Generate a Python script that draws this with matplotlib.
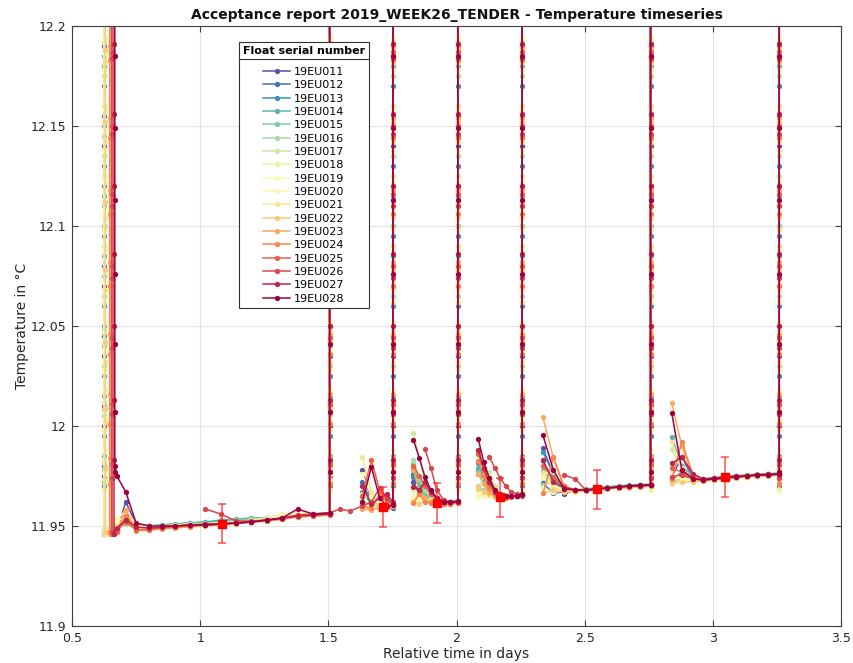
import numpy as np
import matplotlib
matplotlib.use("Agg")
import matplotlib.pyplot as plt
from matplotlib.lines import Line2D
from matplotlib.ticker import FormatStrFormatter

nan = np.nan

floats = ["19EU011", "19EU012", "19EU013", "19EU014", "19EU015", "19EU016",
          "19EU017", "19EU018", "19EU019", "19EU020", "19EU021", "19EU022",
          "19EU023", "19EU024", "19EU025", "19EU026", "19EU027", "19EU028"]

# time (days) of the first descent of every float
descent_time = [0.625, 0.625, 0.625, 0.625, 0.625, 0.625, 0.626, 0.626, 0.627,
                0.627, 0.629, 0.630, 0.647, 0.648, 0.655, 0.656, 0.664, 0.667]
# deepest temperature reached at the end of the first descent
descent_bottom = [11.947, 11.946, 11.948, 11.946, 11.947, 11.946, 11.948, 11.947, 11.946,
                  11.947, 11.946, 11.947, 11.946, 11.947, 11.946, 11.947, 11.946, 11.980]

# temperatures crossed through the water column (bottom -> surface)
column_temp = [
    [11.975, 12.000, 12.035, 12.070, 12.100, 12.140, 12.180, 12.45],
    [11.980, 12.010, 12.045, 12.080, 12.120, 12.155, 12.190, 12.45],
    [11.970, 11.995, 12.025, 12.060, 12.095, 12.130, 12.170, 12.45],
    [11.985, 12.015, 12.050, 12.085, 12.115, 12.150, 12.185, 12.45],
    [11.972, 12.005, 12.040, 12.075, 12.110, 12.145, 12.180, 12.45],
    [11.978, 12.008, 12.030, 12.065, 12.100, 12.135, 12.175, 12.45],
    [11.982, 12.012, 12.048, 12.090, 12.125, 12.160, 12.192, 12.45],
    [11.968, 11.998, 12.028, 12.062, 12.098, 12.138, 12.178, 12.45],
    [11.976, 12.004, 12.038, 12.072, 12.108, 12.148, 12.186, 12.45],
    [11.988, 12.018, 12.052, 12.088, 12.122, 12.158, 12.194, 12.45],
    [11.973, 12.002, 12.032, 12.068, 12.104, 12.142, 12.182, 12.45],
    [11.979, 12.009, 12.042, 12.078, 12.112, 12.152, 12.188, 12.45],
    [11.984, 12.016, 12.046, 12.082, 12.118, 12.154, 12.190, 12.45],
    [11.971, 12.001, 12.036, 12.070, 12.106, 12.144, 12.183, 12.45],
    [11.981, 12.011, 12.044, 12.080, 12.116, 12.150, 12.187, 12.45],
    [11.974, 12.006, 12.039, 12.074, 12.110, 12.146, 12.184, 12.45],
    [11.983, 12.013, 12.050, 12.086, 12.120, 12.156, 12.191, 12.45],
    [11.977, 12.007, 12.041, 12.076, 12.113, 12.149, 12.185, 12.45],
]

# cycle 1 drift
t1 = [0.675, 0.71, 0.75, 0.80, 0.85, 0.90, 0.96, 1.02, 1.08, 1.14, 1.20, 1.26, 1.32, 1.38, 1.44, 1.505]
drift1 = [
    [11.948, 11.962, 11.951, 11.950, 11.950, 11.9505, 11.951, 11.951, 11.9515, 11.952, 11.9525, 11.953, 11.954, 11.955, 11.9555, 11.956],
    [11.949, 11.958, 11.9505, 11.9495, 11.950, 11.9505, 11.951, 11.9515, 11.952, 11.9525, 11.953, 11.9535, 11.954, 11.955, 11.9555, 11.9565],
    [11.950, 11.955, 11.951, 11.950, 11.9505, 11.951, 11.9515, 11.952, 11.9525, 11.953, 11.9535, 11.954, 11.9545, 11.955, 11.956, 11.9565],
    [11.950, 11.953, 11.9505, 11.950, 11.9505, 11.951, 11.9515, 11.952, 11.953, 11.9535, 11.954, 11.954, 11.9545, 11.9555, 11.956, 11.9565],
    [11.951, 11.952, 11.950, 11.9495, 11.950, 11.9505, 11.951, 11.9515, 11.952, 11.953, 11.9535, 11.954, 11.9545, 11.955, 11.956, 11.956],
    [11.949, 11.951, 11.949, 11.949, 11.9495, 11.950, 11.9505, 11.951, 11.9515, 11.952, 11.9525, 11.953, 11.954, 11.955, 11.9555, 11.956],
    [11.952, 11.956, 11.950, 11.949, 11.9495, 11.950, 11.9505, 11.951, 11.9515, 11.952, 11.953, 11.9535, 11.9545, 11.9555, 11.956, 11.9565],
    [11.953, 11.958, 11.951, 11.9495, 11.950, 11.9505, 11.951, 11.951, 11.9515, 11.952, 11.953, 11.954, 11.956, 11.9565, 11.956, 11.956],
    [11.954, 11.957, 11.950, 11.9495, 11.950, 11.950, 11.9505, 11.951, 11.9515, 11.952, 11.9525, 11.9535, 11.9555, 11.957, 11.956, 11.956],
    [11.952, 11.955, 11.9495, 11.949, 11.9495, 11.950, 11.950, 11.9505, 11.951, 11.9515, 11.952, 11.953, 11.955, 11.9565, 11.9555, 11.956],
    [11.950, 11.954, 11.949, 11.9485, 11.949, 11.9495, 11.950, 11.9505, 11.951, 11.9515, 11.952, 11.953, 11.954, 11.9555, 11.9555, 11.956],
    [11.948, 11.953, 11.948, 11.948, 11.949, 11.9495, 11.950, 11.9505, 11.951, 11.9515, 11.952, 11.9525, 11.9535, 11.955, 11.955, 11.9555],
    [11.947, 11.958, 11.9475, 11.948, 11.9485, 11.949, 11.9495, 11.950, 11.9505, 11.951, 11.952, 11.9525, 11.9535, 11.9545, 11.955, 11.9555],
    [11.947, 11.955, 11.948, 11.948, 11.949, 11.9495, 11.950, 11.9505, 11.951, 11.9515, 11.952, 11.9525, 11.9535, 11.9545, 11.955, 11.9555],
    [11.9475, 11.952, 11.948, 11.9485, 11.949, 11.9495, 11.950, 11.9505, 11.951, 11.9515, 11.952, 11.953, 11.9535, 11.955, 11.9555, 11.956],
    [nan, nan, nan, nan, nan, nan, nan, 11.9585, 11.956, 11.9525, 11.9525, 11.953, 11.954, 11.9555, 11.956, 11.9565],
    [11.949, 11.953, 11.9495, 11.949, 11.9495, 11.950, 11.9505, 11.951, 11.951, 11.9515, 11.952, 11.953, 11.954, 11.955, 11.9555, 11.956],
    [11.975, 11.967, 11.9515, 11.950, 11.950, 11.950, 11.9505, 11.9505, 11.951, 11.9515, 11.952, 11.953, 11.954, 11.9585, 11.956, 11.9565],
]

# cycle 2 drift
t2 = [1.545, 1.585, 1.632, 1.668, 1.70, 1.728, 1.752]
drift2 = [
    [nan, nan, 11.978, 11.963, 11.960, 11.959, 11.959],
    [nan, nan, 11.972, 11.962, 11.960, 11.959, 11.960],
    [nan, nan, 11.967, 11.961, 11.9595, 11.960, 11.960],
    [nan, nan, 11.963, 11.960, 11.959, 11.960, 11.960],
    [nan, nan, 11.961, 11.961, 11.960, 11.960, 11.9605],
    [nan, nan, 11.960, 11.962, 11.960, 11.9605, 11.961],
    [nan, nan, 11.963, 11.960, 11.961, 11.960, 11.960],
    [nan, nan, 11.966, 11.963, 11.961, 11.960, 11.960],
    [nan, nan, 11.976, 11.965, 11.9605, 11.960, 11.960],
    [nan, nan, 11.961, 11.960, 11.959, 11.9595, 11.960],
    [nan, nan, 11.9845, 11.967, 11.960, 11.960, 11.9605],
    [nan, nan, 11.959, 11.959, 11.9585, 11.959, 11.960],
    [nan, nan, 11.9585, 11.958, 11.959, 11.9595, 11.960],
    [nan, nan, 11.960, 11.959, 11.966, 11.962, 11.961],
    [nan, nan, 11.965, 11.983, 11.968, 11.963, 11.961],
    [11.9585, 11.9575, 11.960, 11.962, 11.969, 11.964, 11.961],
    [nan, nan, 11.970, 11.961, 11.964, 11.966, 11.962],
    [nan, nan, 11.962, 11.9795, 11.964, 11.960, 11.9605],
]

# cycle 3 drift
t3 = [1.832, 1.855, 1.877, 1.90, 1.923, 1.95, 1.975, 2.005]
drift3 = [
    [11.972, 11.966, 11.964, 11.962, 11.962, 11.9615, 11.9615, 11.962],
    [11.976, 11.969, 11.965, 11.963, 11.962, 11.9615, 11.9615, 11.962],
    [11.9745, 11.970, 11.966, 11.963, 11.962, 11.962, 11.9615, 11.962],
    [11.979, 11.971, 11.966, 11.964, 11.9625, 11.962, 11.962, 11.9625],
    [11.981, 11.973, 11.967, 11.964, 11.963, 11.962, 11.962, 11.9625],
    [11.983, 11.974, 11.968, 11.964, 11.963, 11.962, 11.962, 11.9625],
    [11.9965, 11.984, 11.972, 11.966, 11.963, 11.962, 11.962, 11.962],
    [11.968, 11.966, 11.964, 11.963, 11.962, 11.962, 11.962, 11.962],
    [11.965, 11.965, 11.963, 11.962, 11.962, 11.9615, 11.9615, 11.962],
    [11.964, 11.963, 11.963, 11.962, 11.962, 11.9615, 11.9615, 11.962],
    [11.9625, 11.966, 11.964, 11.963, 11.962, 11.9615, 11.961, 11.9615],
    [11.962, 11.961, 11.963, 11.962, 11.961, 11.961, 11.961, 11.9615],
    [11.978, 11.968, 11.964, 11.962, 11.9615, 11.961, 11.961, 11.9615],
    [11.9615, 11.966, 11.962, 11.9615, 11.961, 11.961, 11.961, 11.9615],
    [11.980, 11.975, 11.970, 11.966, 11.963, 11.962, 11.9615, 11.962],
    [nan, nan, 11.9885, 11.979, 11.968, 11.963, 11.962, 11.962],
    [11.9695, 11.968, 11.972, 11.967, 11.964, 11.962, 11.962, 11.962],
    [11.993, 11.984, 11.9745, 11.968, 11.964, 11.962, 11.962, 11.9625],
]

# cycle 4 drift
t4 = [2.085, 2.106, 2.128, 2.15, 2.17, 2.192, 2.213, 2.235, 2.256]
drift4 = [
    [11.976, 11.973, 11.9715, 11.967, 11.965, 11.965, 11.965, 11.965, 11.965],
    [11.978, 11.972, 11.968, 11.966, 11.965, 11.965, 11.965, 11.965, 11.9655],
    [11.9815, 11.974, 11.969, 11.966, 11.965, 11.965, 11.965, 11.9655, 11.9655],
    [11.979, 11.972, 11.968, 11.966, 11.9655, 11.965, 11.965, 11.9655, 11.966],
    [11.977, 11.971, 11.967, 11.9655, 11.965, 11.965, 11.9655, 11.966, 11.966],
    [11.970, 11.968, 11.966, 11.9655, 11.965, 11.965, 11.9655, 11.966, 11.966],
    [11.968, 11.975, 11.977, 11.970, 11.966, 11.9655, 11.965, 11.9655, 11.966],
    [11.965, 11.966, 11.967, 11.966, 11.965, 11.965, 11.965, 11.9655, 11.966],
    [11.9645, 11.965, 11.966, 11.965, 11.9645, 11.965, 11.965, 11.9655, 11.966],
    [11.966, 11.965, 11.965, 11.9645, 11.9645, 11.965, 11.965, 11.965, 11.9655],
    [11.9875, 11.978, 11.970, 11.966, 11.965, 11.9645, 11.965, 11.965, 11.9655],
    [11.969, 11.967, 11.966, 11.965, 11.9645, 11.9645, 11.9645, 11.965, 11.9655],
    [11.976, 11.971, 11.967, 11.965, 11.964, 11.964, 11.9645, 11.965, 11.9655],
    [11.9825, 11.975, 11.969, 11.966, 11.9645, 11.964, 11.9645, 11.965, 11.9655],
    [11.986, 11.978, 11.971, 11.967, 11.965, 11.9645, 11.965, 11.965, 11.9655],
    [nan, nan, 11.9845, 11.979, 11.974, 11.970, 11.967, 11.966, 11.9655],
    [11.988, 11.979, 11.972, 11.967, 11.965, 11.965, 11.965, 11.965, 11.9655],
    [11.9935, 11.982, 11.974, 11.968, 11.966, 11.965, 11.965, 11.965, 11.966],
]

# cycle 5 drift
t5 = [2.337, 2.378, 2.42, 2.463, 2.505, 2.547, 2.589, 2.632, 2.673, 2.714, 2.757]
drift5 = [
    [11.9888, 11.976, 11.966, 11.968, 11.968, 11.9685, 11.969, 11.9695, 11.970, 11.970, 11.9705],
    [11.9713, 11.9665, 11.967, 11.968, 11.968, 11.969, 11.9695, 11.970, 11.970, 11.9705, 11.9705],
    [11.987, 11.976, 11.969, 11.968, 11.968, 11.9685, 11.969, 11.9695, 11.970, 11.970, 11.9705],
    [11.9825, 11.973, 11.969, 11.968, 11.9685, 11.969, 11.9695, 11.970, 11.9705, 11.9705, 11.971],
    [11.978, 11.971, 11.9685, 11.968, 11.9685, 11.969, 11.9695, 11.970, 11.970, 11.9705, 11.971],
    [11.9705, 11.972, 11.968, 11.9675, 11.968, 11.9685, 11.969, 11.9695, 11.970, 11.970, 11.9705],
    [11.974, 11.977, 11.969, 11.968, 11.968, 11.9685, 11.969, 11.9695, 11.970, 11.970, 11.9705],
    [11.9763, 11.970, 11.968, 11.9675, 11.968, 11.968, 11.9685, 11.969, 11.9695, 11.970, 11.970],
    [11.9747, 11.9695, 11.968, 11.9675, 11.968, 11.968, 11.9685, 11.969, 11.9695, 11.970, 11.970],
    [11.969, 11.967, 11.9675, 11.9675, 11.968, 11.968, 11.9685, 11.969, 11.9695, 11.9695, 11.970],
    [11.9763, 11.969, 11.9675, 11.9675, 11.9675, 11.968, 11.9685, 11.969, 11.9695, 11.9695, 11.970],
    [11.9663, 11.968, 11.967, 11.967, 11.9675, 11.968, 11.9685, 11.969, 11.969, 11.9695, 11.970],
    [12.0043, 11.984, 11.970, 11.968, 11.968, 11.9685, 11.969, 11.969, 11.9695, 11.970, 11.970],
    [11.9663, 11.9843, 11.969, 11.968, 11.968, 11.9685, 11.969, 11.9695, 11.9695, 11.970, 11.9705],
    [11.980, 11.974, 11.970, 11.968, 11.968, 11.9685, 11.969, 11.9695, 11.970, 11.970, 11.9705],
    [nan, nan, 11.9755, 11.9735, 11.968, 11.9685, 11.969, 11.9695, 11.970, 11.970, 11.9705],
    [11.983, 11.972, 11.969, 11.968, 11.968, 11.9685, 11.969, 11.9695, 11.970, 11.970, 11.9705],
    [11.9955, 11.978, 11.9685, 11.968, 11.968, 11.9685, 11.969, 11.9695, 11.970, 11.9705, 11.9705],
]

# cycle 6 drift
t6 = [2.840, 2.879, 2.924, 2.963, 3.005, 3.048, 3.091, 3.132, 3.174, 3.217, 3.259]
drift6 = [
    [11.9745, 11.9847, 11.9735, 11.973, 11.9735, 11.974, 11.9745, 11.975, 11.975, 11.9755, 11.976],
    [11.973, 11.977, 11.9735, 11.973, 11.9735, 11.974, 11.9745, 11.975, 11.9755, 11.9755, 11.976],
    [11.9715, 11.975, 11.974, 11.9735, 11.974, 11.9745, 11.975, 11.975, 11.9755, 11.976, 11.976],
    [11.9943, 11.980, 11.9745, 11.9735, 11.974, 11.9745, 11.975, 11.9755, 11.976, 11.976, 11.9765],
    [11.974, 11.976, 11.974, 11.9735, 11.974, 11.9745, 11.975, 11.9755, 11.976, 11.976, 11.9765],
    [11.972, 11.9735, 11.973, 11.973, 11.9735, 11.974, 11.9745, 11.975, 11.9755, 11.9755, 11.976],
    [11.9883, 11.978, 11.9735, 11.973, 11.9735, 11.974, 11.9745, 11.975, 11.975, 11.9755, 11.976],
    [11.9725, 11.9745, 11.973, 11.9725, 11.973, 11.9735, 11.974, 11.9745, 11.975, 11.9755, 11.9755],
    [11.976, 11.9735, 11.9725, 11.9725, 11.973, 11.9735, 11.974, 11.9745, 11.975, 11.975, 11.9755],
    [11.9713, 11.9725, 11.9725, 11.9725, 11.973, 11.9735, 11.974, 11.9745, 11.975, 11.975, 11.9755],
    [11.9922, 11.979, 11.973, 11.9725, 11.973, 11.9735, 11.974, 11.9745, 11.975, 11.975, 11.9755],
    [11.9713, 11.972, 11.972, 11.9725, 11.973, 11.9735, 11.974, 11.9745, 11.975, 11.975, 11.9755],
    [12.0113, 11.990, 11.974, 11.973, 11.9735, 11.974, 11.9745, 11.975, 11.975, 11.9755, 11.976],
    [11.9735, 11.992, 11.975, 11.973, 11.9735, 11.974, 11.9745, 11.975, 11.9755, 11.9755, 11.976],
    [11.979, 11.977, 11.974, 11.9735, 11.974, 11.9745, 11.975, 11.975, 11.9755, 11.976, 11.976],
    [11.9747, 11.9755, 11.9735, 11.973, 11.9735, 11.974, 11.9745, 11.975, 11.9755, 11.9755, 11.976],
    [11.9813, 11.9845, 11.976, 11.9735, 11.974, 11.9745, 11.975, 11.975, 11.9755, 11.976, 11.976],
    [12.0063, 11.978, 11.9735, 11.973, 11.9735, 11.974, 11.9745, 11.975, 11.9755, 11.9755, 11.976],
]

# floats that stayed at depth at the end of a cycle (cycle index)
missed_surfacing = {"19EU026": 0}

# mean drift temperature of each cycle with its tolerance
cycle_mid_time = [1.084, 1.712, 1.923, 2.170, 2.547, 3.048]
cycle_mean_temp = [11.9512, 11.9593, 11.9613, 11.9643, 11.9683, 11.9744]
cycle_tolerance = [0.0099, 0.0100, 0.0100, 0.0098, 0.0098, 0.0100]

cycles = [(t1, drift1), (t2, drift2), (t3, drift3), (t4, drift4), (t5, drift5), (t6, drift6)]

fig = plt.figure(figsize=(8.54, 6.63), dpi=100)
ax = fig.add_axes([0.0843, 0.0558, 0.9005, 0.905])

cmap = plt.get_cmap("Spectral")
n = len(floats)
handles = []
for i, name in enumerate(floats):
    col = column_temp[i]
    xs = [descent_time[i]] * (len(col) + 1)
    ys = col[::-1] + [descent_bottom[i]]
    for c, (tt, rows) in enumerate(cycles):
        xs += list(tt)
        ys += list(rows[i])
        if missed_surfacing.get(name) == c:
            continue
        xs += [tt[-1]] * len(col)
        ys += list(col)
        xs.append(nan)
        ys.append(nan)
    color = cmap(1.0 - i / (n - 1))
    ln, = ax.plot(xs, ys, "-", color=color, lw=1.1, marker="o", ms=2.8,
                  mec=color, mfc=color, label=name, zorder=2 + i * 0.01)
    handles.append(ln)

ax.errorbar(cycle_mid_time, cycle_mean_temp, yerr=cycle_tolerance, fmt="none",
            ecolor=(1.0, 0.15, 0.15, 0.8), elinewidth=1.1, capsize=3.2,
            capthick=1.1, zorder=5)
ax.plot(cycle_mid_time, cycle_mean_temp, "s", color="#ff0000", ms=5.5, zorder=6)

ax.set_xlim(0.5, 3.5)
ax.set_ylim(11.9, 12.2)
ax.set_xticks([0.5, 1, 1.5, 2, 2.5, 3, 3.5])
ax.set_yticks([11.9, 11.95, 12, 12.05, 12.1, 12.15, 12.2])
ax.xaxis.set_major_formatter(FormatStrFormatter("%g"))
ax.yaxis.set_major_formatter(FormatStrFormatter("%g"))
ax.grid(True, color="#e3e3e3", lw=0.8, zorder=0)
ax.set_axisbelow(True)
ax.tick_params(direction="in", top=True, right=True, length=4.5, width=0.8,
               colors="#404040", labelsize=9, labelcolor="#262626", pad=4)
for s in ax.spines.values():
    s.set_color("#404040")
    s.set_linewidth(0.8)

ax.set_xlabel("Relative time in days", fontsize=10, color="#262626", labelpad=2)
ax.set_ylabel("Temperature in °C", fontsize=10, color="#262626", labelpad=1)
ax.set_title("Acceptance report 2019_WEEK26_TENDER - Temperature timeseries",
             fontsize=10, fontweight="bold", color="#111111", pad=5)

leg = ax.legend(handles=handles, loc="upper left", bbox_to_anchor=(0.2172, 0.9733),
                title="Float serial number", fontsize=8, frameon=True, fancybox=False,
                framealpha=1.0, edgecolor="#333333", borderaxespad=0.0,
                labelspacing=0.3, handlelength=2.4, handletextpad=0.4,
                borderpad=0.35, numpoints=1)
leg.get_title().set_fontweight("bold")
leg.get_title().set_fontsize(8)
leg.get_frame().set_linewidth(0.8)
leg.set_zorder(10)
# leave room under the legend title for its separator line
leg._legend_box.sep = 8

fig.canvas.draw()
fb = leg.get_frame().get_window_extent()
tb = leg.get_title().get_window_extent()
ysep = tb.y0 - 3
sep = Line2D([fb.x0, fb.x1], [ysep, ysep], transform=None, color="#333333",
             lw=0.8, zorder=11)
fig.add_artist(sep)

fig.savefig("out.png", dpi=100)
